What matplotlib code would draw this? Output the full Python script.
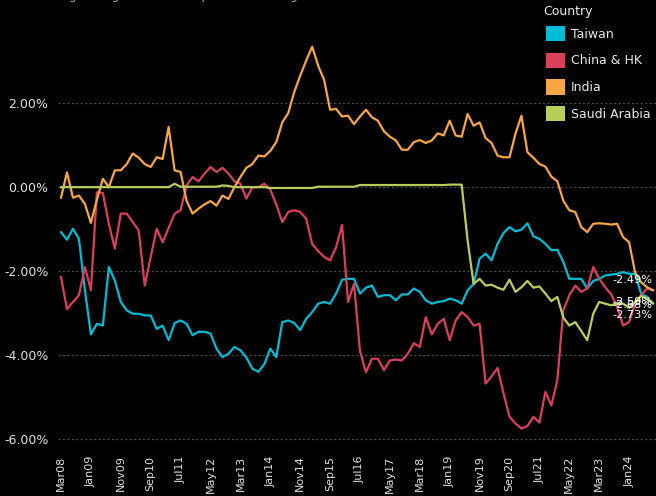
import numpy as np
import pandas as pd
import matplotlib
matplotlib.use('Agg')
import matplotlib.pyplot as plt
from matplotlib.patches import Patch

# every second month from Mar08
dates = pd.date_range('2008-03-01', periods=100, freq='2MS')

taiwan = [
    -1.07, -1.25, -0.99, -1.23, -2.45, -3.50, -3.25, -3.29, -1.90, -2.22,
    -2.73, -2.93, -3.01, -3.01, -3.05, -3.05, -3.37, -3.29, -3.64, -3.23,
    -3.17, -3.25, -3.52, -3.44, -3.44, -3.48, -3.84, -4.04, -3.96, -3.80,
    -3.88, -4.05, -4.32, -4.39, -4.21, -3.84, -4.04, -3.21, -3.17, -3.23,
    -3.40, -3.13, -2.97, -2.77, -2.73, -2.77, -2.53, -2.20, -2.18, -2.18,
    -2.53, -2.39, -2.34, -2.61, -2.57, -2.57, -2.69, -2.55, -2.55, -2.41,
    -2.49, -2.69, -2.77, -2.73, -2.71, -2.65, -2.69, -2.77, -2.45, -2.30,
    -1.70, -1.58, -1.74, -1.35, -1.09, -0.95, -1.05, -1.01, -0.86, -1.17,
    -1.23, -1.35, -1.50, -1.49, -1.78, -2.18, -2.18, -2.18, -2.41, -2.23,
    -2.18, -2.10, -2.08, -2.06, -2.02, -2.06, -2.06, -2.53, -2.61, -2.77,
]

china_hk = [
    -2.14, -2.90, -2.73, -2.57, -1.90, -2.45, -0.12, -0.14, -0.87, -1.46,
    -0.63, -0.63, -0.83, -1.03, -2.34, -1.66, -0.99, -1.31, -0.97, -0.63,
    -0.55, 0.04, 0.24, 0.14, 0.32, 0.48, 0.36, 0.46, 0.32, 0.14,
    0.08, -0.27, 0.00, 0.00, 0.08, -0.06, -0.41, -0.83, -0.59, -0.55,
    -0.59, -0.75, -1.35, -1.52, -1.66, -1.74, -1.43, -0.90, -2.73, -2.30,
    -3.90, -4.40, -4.08, -4.08, -4.35, -4.12, -4.10, -4.12, -3.96, -3.71,
    -3.80, -3.09, -3.50, -3.25, -3.13, -3.64, -3.17, -2.97, -3.09, -3.29,
    -3.25, -4.67, -4.50, -4.30, -4.90, -5.46, -5.62, -5.74, -5.68, -5.46,
    -5.60, -4.87, -5.19, -4.59, -2.93, -2.57, -2.34, -2.49, -2.41, -1.90,
    -2.18, -2.38, -2.55, -2.85, -3.29, -3.21, -2.77, -2.57, -2.41, -2.45,
]

india = [
    -0.25, 0.35, -0.25, -0.20, -0.40, -0.85, -0.30, 0.20, 0.00, 0.40,
    0.40, 0.55, 0.80, 0.70, 0.55, 0.48, 0.71, 0.67, 1.43, 0.40,
    0.36, -0.32, -0.63, -0.51, -0.41, -0.33, -0.44, -0.20, -0.28, 0.00,
    0.24, 0.46, 0.55, 0.75, 0.73, 0.86, 1.07, 1.54, 1.76, 2.26,
    2.65, 3.01, 3.34, 2.89, 2.55, 1.84, 1.86, 1.68, 1.70, 1.50,
    1.68, 1.84, 1.66, 1.58, 1.33, 1.20, 1.11, 0.89, 0.89, 1.07,
    1.12, 1.05, 1.11, 1.28, 1.23, 1.58, 1.23, 1.20, 1.74, 1.46,
    1.54, 1.17, 1.05, 0.75, 0.71, 0.71, 1.27, 1.70, 0.83, 0.70,
    0.55, 0.49, 0.25, 0.14, -0.32, -0.55, -0.59, -0.95, -1.07, -0.87,
    -0.86, -0.87, -0.89, -0.87, -1.19, -1.31, -2.02, -2.26, -2.38, -2.45,
]

saudi = (
    [0.00] * 19 + [0.08] + [0.01] * 7 + [0.04, 0.03] + [0.00] * 6
    + [-0.02] * 8 + [0.01] * 7 + [0.05] * 15
    + [0.06, 0.06, 0.06, -1.27, -2.30]
    + [-2.18, -2.34, -2.32, -2.39, -2.44, -2.20, -2.49, -2.38, -2.23, -2.39]
    + [-2.36, -2.53, -2.71, -2.61, -3.10, -3.29, -3.21, -3.42, -3.64, -3.01,
       -2.73, -2.77, -2.81, -2.76, -2.77, -2.87, -2.73, -2.59, -2.65, -2.76]
)

series = ['Taiwan', 'China & HK', 'India', 'Saudi Arabia']
colors = ['#00BCD4', '#D9405B', '#F5A645', '#B8CE5C']
end_labels = ['-2.49%', '-2.59%', '-2.68%', '-2.73%']
end_label_y = [-2.20, -2.72, -2.80, -3.04]
title = 'Average Weight vs EEMI Top 4 Under Weights'

months = np.arange(len(dates)) * 2
tick_every = 5  # every 10 months

fig = plt.figure(figsize=(6.56, 4.96), dpi=100, facecolor='black')
ax = fig.add_axes([58 / 656, 46 / 496, 598 / 656, 450 / 496])
ax.set_facecolor('black')

for name, vals, c in zip(series, [taiwan, china_hk, india, saudi], colors):
    ax.plot(months, vals, color=c, lw=1.6, label=name, solid_joinstyle='round')

ax.set_xlim(-1, 199)
ax.set_ylim(-6.25, 4.45)
ax.set_yticks([-6, -4, -2, 0, 2])
ax.set_yticklabels([f'{v:.2f}%' for v in [-6, -4, -2, 0, 2]])
ax.set_xticks(months[::tick_every])
ax.set_xticklabels([d.strftime('%b%y') for d in dates[::tick_every]], rotation=90)
ax.tick_params(axis='y', length=0, pad=7, labelsize=9, labelcolor='#e0e0e0')
ax.tick_params(axis='x', length=0, pad=4, labelsize=8, labelcolor='#e0e0e0')
ax.grid(axis='y', color='#4a4a4a', lw=0.8, linestyle=(0, (2, 2)))
ax.set_axisbelow(True)
for s in ax.spines.values():
    s.set_visible(False)

for txt, yv in zip(end_labels, end_label_y):
    ax.text(184.5, yv, txt, color='white', fontsize=8.2, ha='left', va='center')

handles = [Patch(facecolor=c, edgecolor='none', label=n) for n, c in zip(series, colors)]
leg = ax.legend(handles=handles, loc='upper left',
                bbox_to_anchor=(537 / 656, 1 - 17 / 496), bbox_transform=fig.transFigure,
                frameon=False, fontsize=9,
                handlelength=1.5, handleheight=1.5, handletextpad=0.5,
                labelspacing=0.92, borderpad=0.2, labelcolor='#e8e8e8')
fig.text(543 / 656, 1 - 12 / 496, 'Country', color='#e8e8e8', fontsize=9, va='center', ha='left')

fig.text(33 / 656, 1 + 1 / 496, title, color='#9a9a9a', fontsize=9, va='baseline', ha='left')

fig.savefig('out.png', dpi=100, facecolor='black')
plt.close()
